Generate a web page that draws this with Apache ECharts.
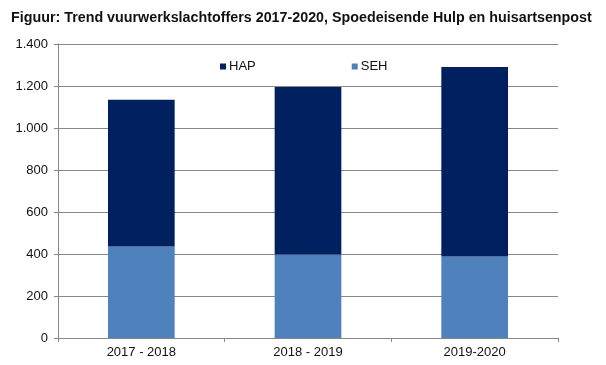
<!DOCTYPE html>
<html>
<head>
<meta charset="utf-8">
<script src="https://cdn.jsdelivr.net/npm/echarts@6/dist/echarts.min.js"></script>
<style>html,body{margin:0;padding:0;background:#fff}#c{width:606px;height:365px}</style>
</head>
<body>
<div id="c"></div>
<script>
const categories = ['2017 - 2018', '2018 - 2019', '2019-2020'];
const sehValues = [436, 398, 388];
const hapValues = [698, 797, 902];
const yTicks = [0, 200, 400, 600, 800, 1000, 1200, 1400];
const titleText = 'Figuur: Trend vuurwerkslachtoffers 2017-2020, Spoedeisende Hulp en huisartsenpost';

const chart = echarts.init(document.getElementById('c'));
const fmt = v => String(v).replace(/\B(?=(\d{3})+(?!\d))/g, '.');
chart.setOption({
  animation: false,
  title: {
    text: titleText, left: 6, top: 6,
    textStyle: {fontFamily: 'Liberation Sans, Arial', fontSize: 14.3, fontWeight: 'bold', color: '#111'}
  },
  legend: {
    data: ['HAP', 'SEH'], left: 215, top: 55, itemWidth: 6, itemHeight: 6, itemGap: 96,
    icon: 'rect',
    textStyle: {fontFamily: 'Liberation Sans, Arial', fontSize: 13, color: '#111', padding: [0,0,0,-2]}
  },
  grid: {left: 58, right: 48, top: 44, bottom: 27, containLabel: false},
  xAxis: {
    type: 'category', data: categories,
    axisLine: {lineStyle: {color: '#888'}},
    axisTick: {show: true, length: 4, lineStyle: {color: '#888'}},
    axisLabel: {fontFamily: 'Liberation Sans, Arial', fontSize: 13, color: '#111', margin: 8}
  },
  yAxis: {
    type: 'value', min: yTicks[0], max: yTicks[yTicks.length - 1], interval: 200,
    axisLine: {show: true, lineStyle: {color: '#888'}},
    axisTick: {show: true, length: 4, lineStyle: {color: '#888'}},
    splitLine: {lineStyle: {color: '#888'}},
    axisLabel: {fontFamily: 'Liberation Sans, Arial', fontSize: 13, color: '#111', margin: 10, formatter: fmt}
  },
  series: [
    {name: 'SEH', type: 'bar', stack: 't', data: sehValues, barWidth: '40%', itemStyle: {color: '#4F81BD'}},
    {name: 'HAP', type: 'bar', stack: 't', data: hapValues, barWidth: '40%', itemStyle: {color: '#002060'}}
  ]
});
</script>
</body>
</html>
